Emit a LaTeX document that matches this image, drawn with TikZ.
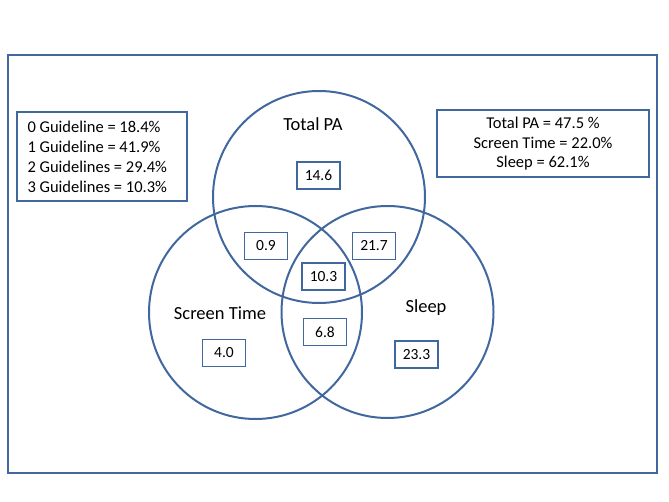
\documentclass[tikz,border=0pt]{standalone}
\usepackage{fontspec}
\setmainfont{Carlito}
\definecolor{vblue}{RGB}{65,104,158}
\begin{document}
\begin{tikzpicture}[x=1pt,y=-1pt,
  ring/.style={draw=vblue,line width=2pt},
  numbox/.style={draw=vblue,line width=1.7pt,minimum width=43pt,minimum height=27pt,inner sep=0pt,font=\fontsize{15.5}{18}\selectfont},
  infobox/.style={draw=vblue,line width=1.8pt,inner sep=0pt},
  lbl/.style={font=\fontsize{18.5}{22}\selectfont},
  txt/.style={font=\fontsize{16.5}{20}\selectfont}]
\useasboundingbox (0,0) rectangle (669,502);
\node[draw=vblue,line width=2pt,minimum width=649pt,minimum height=417pt,inner sep=0pt] (frame) at (332.5,264) {};
\draw[ring] (319,197) circle (106);
\draw[ring] (255.5,312.5) circle (106.5);
\draw[ring] (387.5,312) circle (106);
\node[lbl] (tpa) at (313,124) {Total PA};
\node[lbl] (st) at (220,313) {Screen Time};
\node[lbl] (sl) at (426,308) {Sleep};
\node[numbox] (n1) at (318.5,175.5) {14.6};
\node[numbox] (n2) at (266,246) {0.9};
\node[numbox] (n3) at (374,246) {21.7};
\node[numbox] (n4) at (323.5,276.5) {10.3};
\node[numbox] (n5) at (325,332) {6.8};
\node[numbox] (n6) at (224,353) {4.0};
\node[numbox] (n7) at (416.5,354.5) {23.3};
\node[infobox,minimum width=170pt,minimum height=89pt] (lb) at (102,156.5) {};
\node[txt,anchor=west] (l1) at (24,127) {0 Guideline = 18.4\%};
\node[txt,anchor=west] (l2) at (24,147) {1 Guideline = 41.9\%};
\node[txt,anchor=west] (l3) at (24,167) {2 Guidelines = 29.4\%};
\node[txt,anchor=west] (l4) at (24,187) {3 Guidelines = 10.3\%};
\node[infobox,minimum width=212pt,minimum height=67pt] (rb) at (543,143.5) {};
\node[txt] (r1) at (543,123) {Total PA = 47.5 \%};
\node[txt] (r2) at (543,143) {Screen Time = 22.0\%};
\node[txt] (r3) at (543,163) {Sleep = 62.1\%};
\end{tikzpicture}
\end{document}
